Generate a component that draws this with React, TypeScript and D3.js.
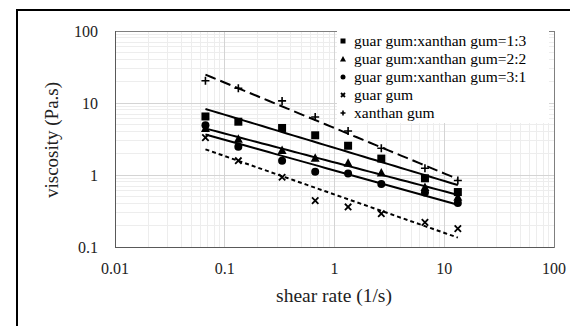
import * as d3 from "d3";

// shear rate (1/s)
const shearRate = [0.0667, 0.133, 0.333, 0.667, 1.33, 2.67, 6.67, 13.3];

// viscosity (Pa.s) per sample
const ratio13 = [6.5, 5.5, 4.5, 3.56, 2.55, 1.69, 0.9, 0.58];
const ratio22 = [4.5, 3.2, 2.22, 1.74, 1.48, 1.08, 0.68, 0.5];
const ratio31 = [4.9, 2.47, 1.58, 1.11, 1.05, 0.75, 0.57, 0.41];
const guarGum = [3.3, 1.58, 0.93, 0.44, 0.36, 0.29, 0.22, 0.18];
const xanthanGum = [20.4, 16, 10.7, 6.4, 4.08, 2.35, 1.24, 0.84];

const xTicks = [0.01, 0.1, 1, 10, 100];
const yTicks = [0.1, 1, 10, 100];

type Marker = "square" | "triangle" | "circle" | "cross" | "plus";

const series: { name: string; values: number[]; marker: Marker; dash: string }[] = [
  { name: "guar gum:xanthan gum=1:3", values: ratio13, marker: "square", dash: "" },
  { name: "guar gum:xanthan gum=2:2", values: ratio22, marker: "triangle", dash: "" },
  { name: "guar gum:xanthan gum=3:1", values: ratio31, marker: "circle", dash: "" },
  { name: "guar gum", values: guarGum, marker: "cross", dash: "4,3" },
  { name: "xanthan gum", values: xanthanGum, marker: "plus", dash: "11,5" },
];

const font = "Liberation Serif";

// power trendline, fitted in log-log space like the spreadsheet does
const powerFit = (xs: number[], ys: number[]) => {
  const lx = xs.map(Math.log10);
  const ly = ys.map(Math.log10);
  const mx = d3.mean(lx)!;
  const my = d3.mean(ly)!;
  const slope =
    d3.sum(lx, (v, i) => (v - mx) * (ly[i] - my)) / d3.sum(lx, (v) => (v - mx) ** 2);
  const icpt = my - slope * mx;
  return (x: number) => Math.pow(10, icpt + slope * Math.log10(x));
};

const MarkerShape = ({ type, x, y, s }: { type: Marker; x: number; y: number; s: number }) => {
  const h = s / 2;
  if (type === "square")
    return <rect x={x - h} y={y - h} width={s} height={s} fill="#000" />;
  if (type === "triangle")
    return (
      <path d={`M${x},${y - h - 0.5}L${x + h + 0.5},${y + h}L${x - h - 0.5},${y + h}Z`} fill="#000" />
    );
  if (type === "circle") return <circle cx={x} cy={y} r={h} fill="#000" />;
  if (type === "cross") {
    const c = h * 0.8;
    return (
      <path
        d={`M${x - c},${y - c}L${x + c},${y + c}M${x - c},${y + c}L${x + c},${y - c}`}
        stroke="#000"
        strokeWidth={1.8}
      />
    );
  }
  return (
    <path d={`M${x - h},${y}L${x + h},${y}M${x},${y - h}L${x},${y + h}`} stroke="#000" strokeWidth={1.6} />
  );
};

export default function App() {
  const width = 570;
  const height = 326;
  const plot = { left: 115, top: 31, right: 554, bottom: 247 };

  const x = d3.scaleLog().domain([0.01, 100]).range([plot.left, plot.right]);
  const y = d3.scaleLog().domain([0.1, 100]).range([plot.bottom, plot.top]);

  const minor: number[] = [];
  const minorY: number[] = [];
  for (let e = -2; e < 2; e++)
    for (let k = 2; k <= 9; k++) minor.push(k * Math.pow(10, e));
  for (let e = -1; e < 2; e++)
    for (let k = 2; k <= 9; k++) minorY.push(k * Math.pow(10, e));

  const legendX = 343;
  const legendY0 = 41;
  const legendStep = 18;

  return (
    <svg
      width={width}
      height={height}
      style={{ position: "absolute", left: 0, top: 0, background: "#fff" }}
    >
      <rect x={0} y={0} width={width} height={height} fill="#fff" />
      <rect x={17} y={10} width={600} height={400} fill="none" stroke="#000" strokeWidth={2} />

      {/* gridlines */}
      <g shapeRendering="crispEdges">
        {minor.map((v) => (
          <line key={"mx" + v} x1={x(v)} x2={x(v)} y1={plot.top} y2={plot.bottom} stroke="#ededed" />
        ))}
        {minorY.map((v) => (
          <line key={"my" + v} x1={plot.left} x2={plot.right} y1={y(v)} y2={y(v)} stroke="#ededed" />
        ))}
        {xTicks.map((v) => (
          <line key={"gx" + v} x1={x(v)} x2={x(v)} y1={plot.top} y2={plot.bottom} stroke="#d4d4d4" />
        ))}
        {yTicks.map((v) => (
          <line key={"gy" + v} x1={plot.left} x2={plot.right} y1={y(v)} y2={y(v)} stroke="#d4d4d4" />
        ))}
        <rect
          x={plot.left}
          y={plot.top}
          width={plot.right - plot.left}
          height={plot.bottom - plot.top}
          fill="none"
          stroke="#7f7f7f"
        />
        <line x1={plot.left} x2={plot.right} y1={plot.bottom} y2={plot.bottom} stroke="#595959" />
        <line x1={plot.left} x2={plot.left} y1={plot.top} y2={plot.bottom} stroke="#595959" />
      </g>

      {/* tick labels */}
      {yTicks.map((v) => (
        <text
          key={"ty" + v}
          x={plot.left - 17}
          y={y(v)}
          dy="0.35em"
          textAnchor="end"
          fontFamily={font}
          fontSize={16}
          fill="#222"
        >
          {v}
        </text>
      ))}
      {xTicks.map((v) => (
        <text
          key={"tx" + v}
          x={x(v)}
          y={plot.bottom + 21}
          dy="0.35em"
          textAnchor="middle"
          fontFamily={font}
          fontSize={16}
          fill="#222"
        >
          {v}
        </text>
      ))}

      <text
        transform={`translate(51,${(plot.top + plot.bottom) / 2 + 1}) rotate(-90)`}
        dy="0.35em"
        textAnchor="middle"
        fontFamily={font}
        fontSize={19}
        fill="#222"
      >
        viscosity (Pa.s)
      </text>
      <text
        x={334}
        y={295}
        dy="0.35em"
        textAnchor="middle"
        fontFamily={font}
        fontSize={19.5}
        fill="#222"
      >
        shear rate (1/s)
      </text>

      {/* trendlines */}
      {series.map((s) => {
        const f = powerFit(shearRate, s.values);
        const a = Math.log10(shearRate[0]);
        const b = Math.log10(shearRate[shearRate.length - 1]);
        const xs = d3.range(0, 41).map((i) => Math.pow(10, a + ((b - a) * i) / 40));
        return (
          <path
            key={"t" + s.name}
            d={d3
              .line<number>()
              .x((d) => x(d))
              .y((d) => y(f(d)))(xs)!}
            fill="none"
            stroke="#000"
            strokeWidth={2}
            strokeDasharray={s.dash || undefined}
          />
        );
      })}

      {/* points */}
      {series.map((s) =>
        s.values.map((v, i) => (
          <MarkerShape key={s.name + i} type={s.marker} x={x(shearRate[i])} y={y(v)} s={8} />
        ))
      )}

      {/* legend */}
      <rect x={legendX - 6} y={legendY0 - 10} width={212} height={legendStep * 4 + 20} fill="#fff" />
      {series.map((s, i) => (
        <g key={"l" + s.name}>
          <MarkerShape type={s.marker} x={legendX} y={legendY0 + i * legendStep} s={5} />
          <text
            x={legendX + 11}
            y={legendY0 + i * legendStep}
            dy="0.35em"
            fontFamily={font}
            fontSize={15.5}
            fill="#000"
          >
            {s.name}
          </text>
        </g>
      ))}
    </svg>
  );
}
